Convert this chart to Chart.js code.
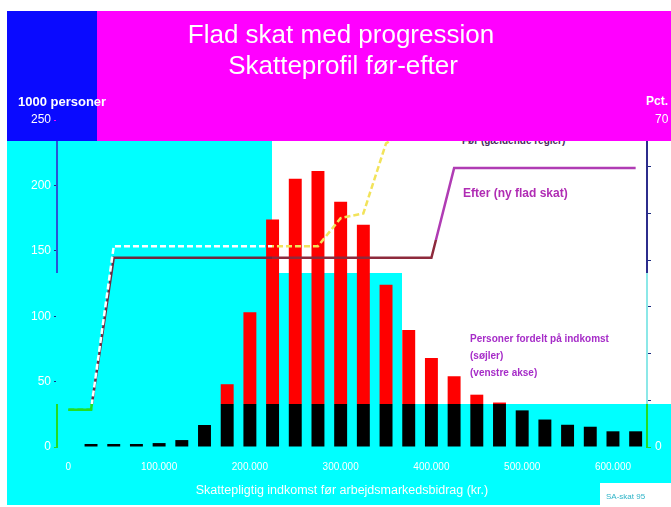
<!DOCTYPE html>
<html><head><meta charset="utf-8">
<script src="https://cdn.jsdelivr.net/npm/chart.js@4/dist/chart.umd.min.js"></script>
<style>
html,body{margin:0;padding:0;background:#fff;}
#wrap{position:relative;width:671px;height:507px;overflow:hidden;font-family:"Liberation Sans",Arial,sans-serif;}
.blk{position:absolute;}
#c{position:absolute;left:0;top:0;}
.t{position:absolute;white-space:nowrap;line-height:1;}
.ov{z-index:5;}
</style></head><body>
<div id="wrap">
  <canvas id="c" width="671" height="507"></canvas>
  <div class="t ov" style="left:341px;top:21px;transform:translateX(-50%);font-size:26px;color:#fff;">Flad skat med progression</div>
  <div class="t ov" style="left:343px;top:52px;transform:translateX(-50%);font-size:26px;color:#fff;">Skatteprofil før-efter</div>
  <div class="t ov" style="left:18px;top:95px;font-size:13px;font-weight:bold;color:#fff;">1000 personer</div>
  <div class="t ov" style="left:646px;top:95px;font-size:12px;font-weight:bold;color:#fff;">Pct. marginalskat</div>
  <div class="t ov" style="left:463px;top:187px;font-size:12px;font-weight:bold;color:#b02cb4;">Efter (ny flad skat)</div>
  <div class="t ov" style="left:470px;top:330px;font-size:10px;font-weight:bold;color:#a62cc8;line-height:17px;">Personer fordelt på indkomst<br>(søjler)<br>(venstre akse)</div>
  <div class="t ov" style="left:342px;top:484px;transform:translateX(-50%);font-size:12.5px;color:#fff;">Skattepligtig indkomst før arbejdsmarkedsbidrag (kr.)</div>
  <div class="t ov" style="left:606px;top:493px;font-size:8px;color:#2fb4c8;">SA-skat 95</div>
</div>
<script>
// ---- data ----
const categories = ['0','25.000','50.000','75.000','100.000','125.000','150.000','175.000','200.000','225.000','250.000','275.000','300.000','325.000','350.000','375.000','400.000','425.000','450.000','475.000','500.000','525.000','550.000','575.000','600.000','625.000'];
const xTickLabels = ['0','100.000','200.000','300.000','400.000','500.000','600.000'];
const personsThousands = [null,2.3,2.3,2.3,3,5.3,16.8,48,103,174,205,211,187.5,170,124,89.5,68,54,40,34,28,21,17,15.5,12,12];
const marginalBefore = [8,8,43,43,43,43,43,43,43,43,43,43,49,50,65,68,68,68,68,68,68,68,68,68,68,68];
const marginalAfter = [8,8,40.5,40.5,40.5,40.5,40.5,40.5,40.5,40.5,40.5,40.5,40.5,40.5,40.5,40.5,40.5,59.7,59.7,59.7,59.7,59.7,59.7,59.7,59.7,59.7];
const leftTicks = [0,50,100,150,200,250];
const rightTicks = [0,10,20,30,40,50,60,70];

// ---- layout of the coloured background blocks ----
const W = 671, H = 507;
const CYAN = '#00ffff';
const cyanRects = [[7,141,265,132],[7,273,395,131],[7,404,664,101]];
const wrap = document.getElementById('wrap');
const canvasEl = document.getElementById('c');
function addBlock(x,y,w,h,color){
  const d = document.createElement('div');
  d.className='blk';
  d.style.cssText = `left:${x}px;top:${y}px;width:${w}px;height:${h}px;background:${color};`;
  wrap.insertBefore(d, canvasEl);
  return d;
}
cyanRects.forEach(r => addBlock(r[0],r[1],r[2],r[3],CYAN));
addBlock(600,483,71,22,'#ffffff');
const bund = document.createElement('div');
bund.className='t';
bund.style.cssText='left:462px;top:136px;font-size:10px;font-weight:bold;color:#4a2a5c;';
bund.textContent='Før (gældende regler)';
wrap.insertBefore(bund, canvasEl);
addBlock(7,11,90,130,'#0a0aff');
addBlock(97,11,574,130,'#ff00ff');

// ---- region-coloured patterns ----
const ctx = canvasEl.getContext('2d');
function makePattern(paint){
  const off = document.createElement('canvas');
  off.width = W; off.height = H;
  const o = off.getContext('2d');
  paint(o);
  return ctx.createPattern(off,'no-repeat');
}
function regions(o, c){
  o.fillStyle = c.white; o.fillRect(0,0,W,H);
  if (c.whiteHigh){ o.fillStyle = c.whiteHigh; o.fillRect(0,0,W,c.splitY); }
  o.fillStyle = c.cyan;
  cyanRects.slice(0,2).forEach(r => o.fillRect(r[0],r[1],r[2],r[3]));
  o.fillStyle = c.band; o.fillRect(0,404,W,H-404);
}
const barPat = makePattern(o => { o.fillStyle='#ff0000'; o.fillRect(0,0,W,H); o.fillStyle='#000000'; o.fillRect(0,404,W,H-404); });
const beforePat = makePattern(o => regions(o,{white:'#f2e35a', cyan:'#ffffff', band:'#22e022'}));
const afterPat = makePattern(o => regions(o,{white:'#8e2a3c', whiteHigh:'#b03cb4', splitY:240, cyan:'#6e2a40', band:'#22e022'}));
const leftAxisPat = makePattern(o => { o.fillStyle='#2a55d5'; o.fillRect(0,0,W,H); o.fillStyle=CYAN; o.fillRect(0,273,W,131); o.fillStyle='#22dd22'; o.fillRect(0,404,W,H); o.fillStyle='#0a0aff'; o.fillRect(0,0,W,141); });
const rightAxisPat = makePattern(o => { o.fillStyle='#2c2c8c'; o.fillRect(0,0,W,H); o.fillStyle='#8ce8e8'; o.fillRect(0,273,W,131); o.fillStyle='#22dd22'; o.fillRect(0,404,W,H); o.fillStyle='#ff00ff'; o.fillRect(0,0,W,141); });
const tickPat = makePattern(o => { o.fillStyle='#1a2a80'; o.fillRect(0,0,W,H); o.fillStyle='#22dd22'; o.fillRect(0,404,W,H); o.fillStyle='#ff00ff'; o.fillRect(0,0,W,141); });

const FONT = "'Liberation Sans', Arial, sans-serif";
new Chart(ctx, {
  data: {
    labels: categories,
    datasets: [
      {type:'line', label:'Før', data: marginalBefore, yAxisID:'yR', borderColor: beforePat, borderWidth: 2.5, borderDash:[6,3], pointRadius:0, tension:0, order:0, clip:{left:2, top:-21, right:2, bottom:2}},
      {type:'line', label:'Efter', data: marginalAfter, yAxisID:'yR', borderColor: afterPat, borderWidth: 2.5, pointRadius:0, tension:0, order:1},
      {type:'bar', label:'Personer', data: personsThousands, yAxisID:'yL', backgroundColor: barPat, categoryPercentage:1, barPercentage:0.57, order:2}
    ]
  },
  options: {
    responsive:false, devicePixelRatio:1, animation:false,
    layout:{padding:{top:120,left:0,right:0,bottom:0}},
    plugins:{legend:{display:false}, tooltip:{enabled:false}},
    scales:{
      x:{type:'category', offset:true, grid:{display:false}, border:{display:false},
         ticks:{autoSkip:false, maxRotation:0, color:'#ffffff', font:{family:FONT,size:10}, padding:6,
           callback:(v,i)=> xTickLabels.includes(categories[i]) ? categories[i] : ''},
         afterFit:s=>{s.height=60;}},
      yL:{position:'left', min:0, max:250,
         afterBuildTicks:s=>{s.ticks = leftTicks.map(v=>({value:v}));},
         grid:{drawOnChartArea:false, tickLength:3, color:tickPat},
         border:{color:leftAxisPat, width:2},
         ticks:{color:'#ffffff', font:{family:FONT,size:12}, padding:3},
         afterFit:s=>{s.width=57;}},
      yR:{position:'right', min:0, max:70,
         afterBuildTicks:s=>{s.ticks = rightTicks.map(v=>({value:v}));},
         grid:{drawOnChartArea:false, tickLength:4, color:tickPat},
         border:{color:rightAxisPat, width:2},
         ticks:{color:'#ffffff', font:{family:FONT,size:12}, padding:4},
         afterFit:s=>{s.width=24;}}
    }
  }
});
</script>
</body></html>
